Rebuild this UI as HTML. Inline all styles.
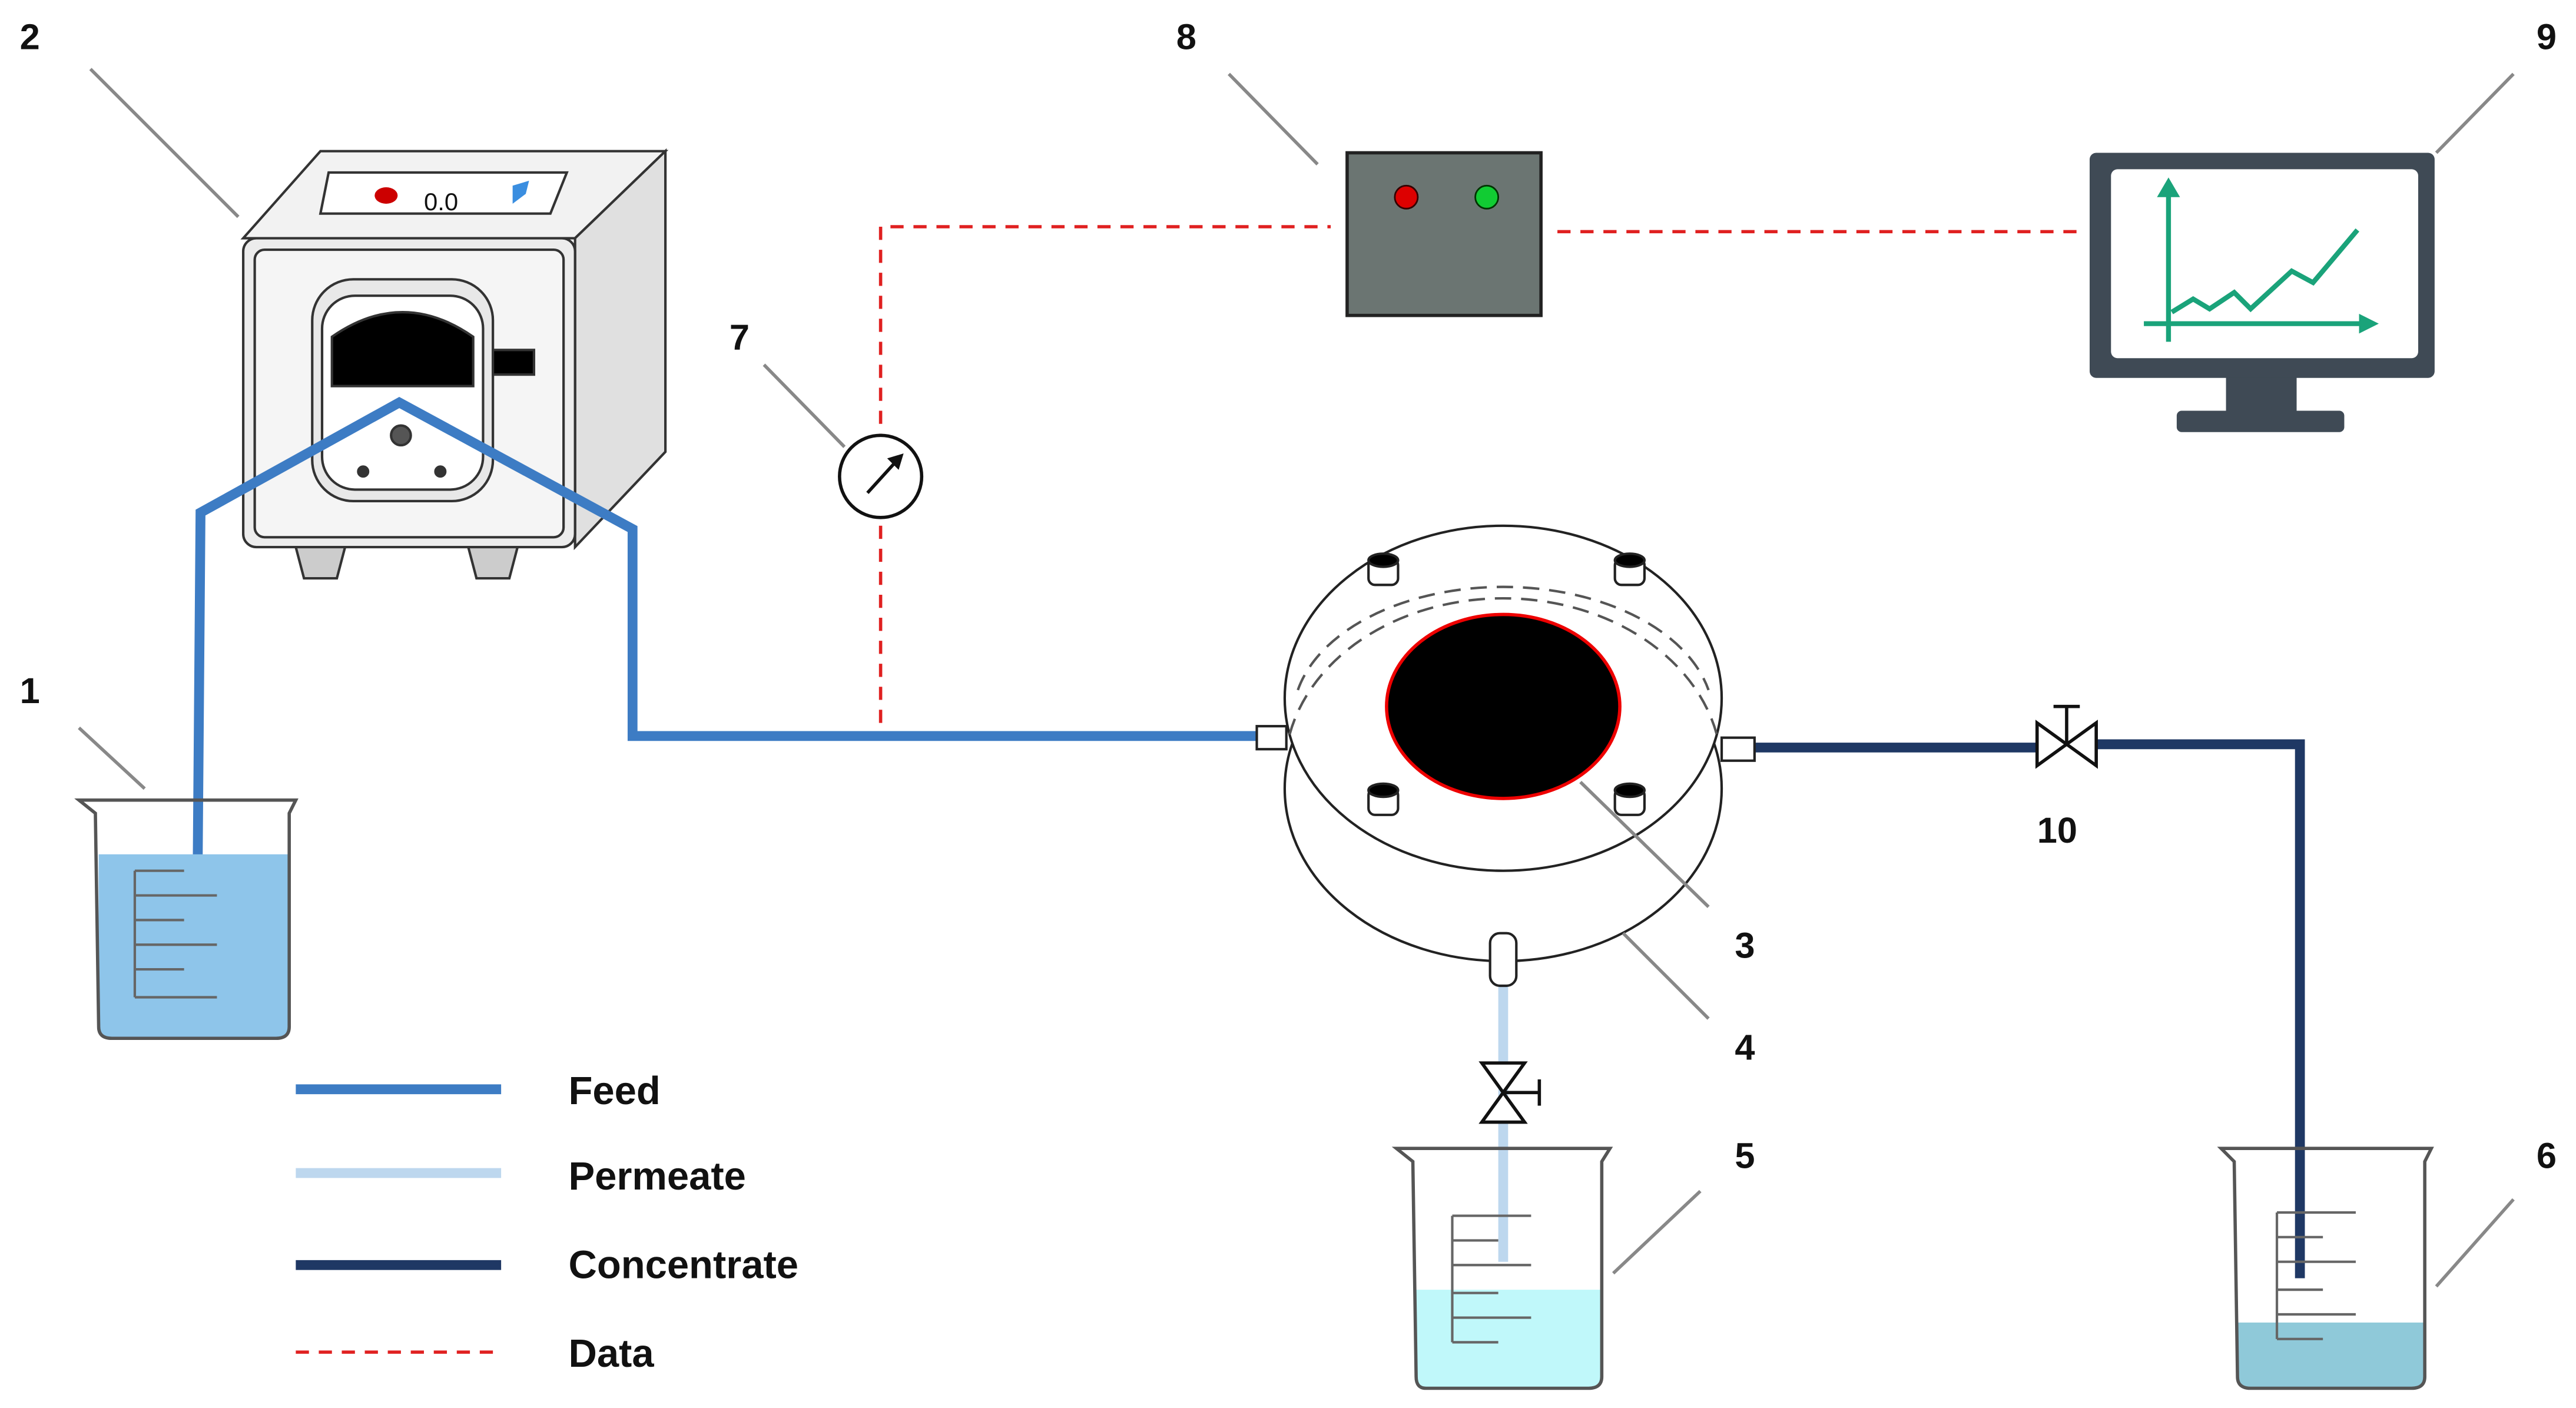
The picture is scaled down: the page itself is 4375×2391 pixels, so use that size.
<!DOCTYPE html>
<html><head><meta charset="utf-8"><style>
html,body{margin:0;padding:0;background:#fff}
svg{display:block}
text{font-family:"Liberation Sans",sans-serif;font-weight:bold;fill:#111}
</style></head><body>
<svg width="4375" height="2391" viewBox="0 0 1568 857" xmlns="http://www.w3.org/2000/svg">
<rect width="1568" height="857" fill="#fff"/>
<g font-size="22">
<text x="12" y="30">2</text><text x="716" y="30">8</text><text x="1544" y="30">9</text>
<text x="444" y="213">7</text><text x="12" y="428">1</text>
<text x="1056" y="583">3</text><text x="1056" y="645">4</text><text x="1056" y="711">5</text>
<text x="1544" y="711">6</text><text x="1240" y="513">10</text>
</g>
<!-- pump -->
<g stroke="#333" stroke-width="1.5">
<path d="M148 145 L195 92 L405 92 L350 145 Z" fill="#f2f2f2"/>
<path d="M350 145 L405 92 L405 275 L350 333 Z" fill="#e0e0e0"/>
<rect x="148" y="145" width="202" height="188" rx="8" fill="#ececec"/>
<rect x="155" y="152" width="188" height="175" rx="6" fill="#f5f5f5"/>
<path d="M180 333 L210 333 L205 352 L185 352 Z" fill="#ccc"/>
<path d="M285 333 L315 333 L310 352 L290 352 Z" fill="#ccc"/>
<path d="M200 105 L345 105 L335 130 L195 130 Z" fill="#fff"/>
<rect x="190" y="170" width="110" height="135" rx="25" fill="#e8e8e8"/>
<rect x="196" y="180" width="98" height="118" rx="20" fill="#fff"/>
<path d="M202 235 L202 205 Q245 175 288 205 L288 235 Z" fill="#000"/>
<rect x="300" y="213" width="25" height="15" fill="#000"/>
<circle cx="244" cy="265" r="6" fill="#555"/>
<circle cx="221" cy="287" r="3" fill="#333"/>
<circle cx="268" cy="287" r="3" fill="#333"/>
</g>
<ellipse cx="235" cy="119" rx="7" ry="5" fill="#c00"/>
<text x="258" y="128" font-size="15" style="font-weight:normal">0.0</text>
<path d="M312 113 L322 110 L320 118 L312 124 Z" fill="#3a8ee0"/>
<!-- feed line -->
<polyline points="120,562 122,312 243,245 385,322 385,448 765,448" fill="none" stroke="#3d7cc4" stroke-width="6"/>
<!-- data lines -->
<g stroke="#e02020" stroke-width="2" stroke-dasharray="8,6" fill="none">
<polyline points="536,440 536,138 810,138"/>
<line x1="948" y1="141" x2="1270" y2="141"/>
</g>
<circle cx="536" cy="290" r="25" fill="#fff" stroke="#111" stroke-width="2"/>
<line x1="528" y1="300" x2="548" y2="278" stroke="#111" stroke-width="2"/>
<path d="M550 276 L540 279 L547 286 Z" fill="#111"/>
<!-- box 8 -->
<rect x="820" y="93" width="118" height="99" fill="#6b7572" stroke="#222" stroke-width="2"/>
<circle cx="856" cy="120" r="7" fill="#d00" stroke="#300"/>
<circle cx="905" cy="120" r="7" fill="#1c3" stroke="#030"/>
<!-- monitor -->
<rect x="1355" y="228" width="43" height="24" fill="#3f4a55"/>
<rect x="1325" y="250" width="102" height="13" rx="3" fill="#3f4a55"/>
<rect x="1272" y="93" width="210" height="137" rx="4" fill="#3f4a55"/>
<rect x="1285" y="103" width="187" height="115" rx="4" fill="#fff"/>
<g stroke="#1aa37a" stroke-width="3" fill="none">
<line x1="1320" y1="208" x2="1320" y2="115"/>
<line x1="1305" y1="197" x2="1440" y2="197"/>
<polyline points="1322,190 1335,182 1345,188 1360,178 1370,188 1395,165 1408,172 1435,140"/>
</g>
<path d="M1313 120 L1320 108 L1327 120 Z" fill="#1aa37a"/>
<path d="M1436 191 L1448 197 L1436 203 Z" fill="#1aa37a"/>
<!-- concentrate -->
<polyline points="1068,455 1240,455" stroke="#1f3864" stroke-width="6" fill="none"/>
<polyline points="1276,453 1400,453 1400,778" stroke="#1f3864" stroke-width="6" fill="none"/>
<g stroke="#111" stroke-width="2" fill="#fff">
<path d="M1240 440 L1276 466 L1276 440 L1240 466 Z"/>
<line x1="1258" y1="453" x2="1258" y2="430"/><line x1="1250" y1="430" x2="1266" y2="430"/>
</g>
<!-- permeate -->
<line x1="915" y1="598" x2="915" y2="768" stroke="#bdd7ee" stroke-width="6"/>
<g stroke="#111" stroke-width="2" fill="#fff">
<path d="M902 647 L928 683 L902 683 L928 647 Z"/>
<line x1="915" y1="665" x2="937" y2="665"/><line x1="937" y1="657" x2="937" y2="673"/>
</g>
<!-- cell -->
<g stroke="#222" stroke-width="1.5" fill="#fff">
<ellipse cx="915" cy="480" rx="133" ry="105"/>
<ellipse cx="915" cy="425" rx="133" ry="105"/>
<rect x="765" y="442" width="18" height="14"/>
<rect x="1048" y="449" width="20" height="14"/>
<rect x="907" y="568" width="16" height="32" rx="6"/>
</g>
<path d="M785 455 A133 105 0 0 1 1045 455" fill="none" stroke="#555" stroke-width="1.5" stroke-dasharray="10,6" transform="translate(0,-8)"/>
<path d="M790 440 A128 80 0 0 1 1040 440" fill="none" stroke="#555" stroke-width="1.5" stroke-dasharray="10,6" transform="translate(0,-20)"/>
<ellipse cx="915" cy="430" rx="71" ry="56" fill="#000" stroke="#e00" stroke-width="2"/>
<g fill="#fff" stroke="#222" stroke-width="1.5">
<rect x="833" y="340" width="18" height="16" rx="4"/><ellipse cx="842" cy="341" rx="9" ry="4" fill="#000"/>
<rect x="983" y="340" width="18" height="16" rx="4"/><ellipse cx="992" cy="341" rx="9" ry="4" fill="#000"/>
<rect x="833" y="480" width="18" height="16" rx="4"/><ellipse cx="842" cy="481" rx="9" ry="4" fill="#000"/>
<rect x="983" y="480" width="18" height="16" rx="4"/><ellipse cx="992" cy="481" rx="9" ry="4" fill="#000"/>
</g>
<!-- leader lines -->
<g stroke="#888" stroke-width="2" fill="none">
<line x1="55" y1="42" x2="145" y2="132"/>
<line x1="748" y1="45" x2="802" y2="100"/>
<line x1="1530" y1="45" x2="1483" y2="93"/>
<line x1="465" y1="222" x2="514" y2="272"/>
<line x1="48" y1="443" x2="88" y2="480"/>
<line x1="1040" y1="552" x2="962" y2="476"/>
<line x1="1040" y1="620" x2="988" y2="568"/>
<line x1="1035" y1="725" x2="982" y2="775"/>
<line x1="1530" y1="730" x2="1483" y2="783"/>
</g>
<!-- beakers -->
<g stroke="#555" stroke-width="2">
<path d="M60 520 L176 520 L176 625 Q176 632 168 632 L68 632 Q60 632 60 625 Z" fill="#8ec5ea" stroke="none"/>
<path d="M48 487 L58 495 L60 625 Q60 632 68 632 L168 632 Q176 632 176 625 L176 495 L180 487 Z" fill="none"/>
<path d="M862 785 L975 785 L975 838 Q975 845 967 845 L868 845 Q862 845 862 838 Z" fill="#c0f8fa" stroke="none"/>
<path d="M850 699 L860 707 L862 838 Q862 845 868 845 L967 845 Q975 845 975 838 L975 707 L980 699 Z" fill="none"/>
<path d="M1362 805 L1476 805 L1476 838 Q1476 845 1468 845 L1370 845 Q1362 845 1362 838 Z" fill="#8fc9d9" stroke="none"/>
<path d="M1352 699 L1360 707 L1362 838 Q1362 845 1370 845 L1468 845 Q1476 845 1476 838 L1476 707 L1480 699 Z" fill="none"/>
</g>
<g stroke="#666" stroke-width="1.5">
<line x1="82" y1="530" x2="82" y2="607"/>
<line x1="82" y1="530" x2="112" y2="530"/><line x1="82" y1="545" x2="132" y2="545"/><line x1="82" y1="560" x2="112" y2="560"/><line x1="82" y1="575" x2="132" y2="575"/><line x1="82" y1="590" x2="112" y2="590"/><line x1="82" y1="607" x2="132" y2="607"/>
<line x1="884" y1="740" x2="884" y2="817"/>
<line x1="884" y1="740" x2="932" y2="740"/><line x1="884" y1="755" x2="912" y2="755"/><line x1="884" y1="770" x2="932" y2="770"/><line x1="884" y1="787" x2="912" y2="787"/><line x1="884" y1="802" x2="932" y2="802"/><line x1="884" y1="817" x2="912" y2="817"/>
<line x1="1386" y1="738" x2="1386" y2="815"/>
<line x1="1386" y1="738" x2="1434" y2="738"/><line x1="1386" y1="753" x2="1414" y2="753"/><line x1="1386" y1="768" x2="1434" y2="768"/><line x1="1386" y1="785" x2="1414" y2="785"/><line x1="1386" y1="800" x2="1434" y2="800"/><line x1="1386" y1="815" x2="1414" y2="815"/>
</g>
<!-- legend -->
<line x1="180" y1="663" x2="305" y2="663" stroke="#3d7cc4" stroke-width="6"/>
<line x1="180" y1="714" x2="305" y2="714" stroke="#bdd7ee" stroke-width="6"/>
<line x1="180" y1="770" x2="305" y2="770" stroke="#1f3864" stroke-width="6"/>
<line x1="180" y1="823" x2="305" y2="823" stroke="#e02020" stroke-width="2" stroke-dasharray="8,6"/>
<g font-size="24">
<text x="346" y="672">Feed</text>
<text x="346" y="724">Permeate</text>
<text x="346" y="778">Concentrate</text>
<text x="346" y="832">Data</text>
</g>
</svg>
</body></html>
